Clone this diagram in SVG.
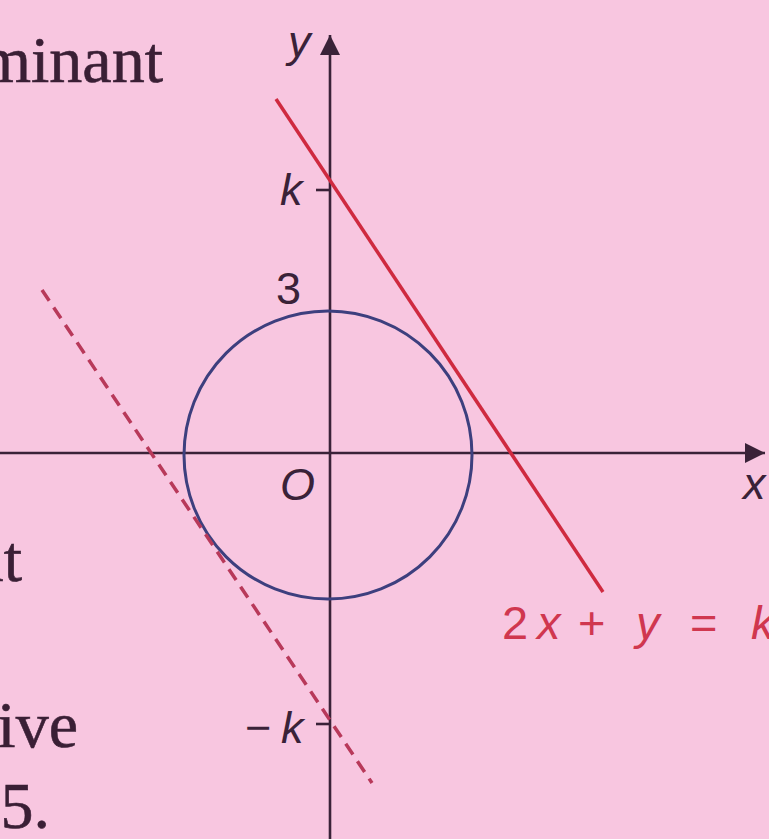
<svg xmlns="http://www.w3.org/2000/svg" width="769" height="839" viewBox="0 0 769 839">
<style>
.body{font-family:"Liberation Serif","Times New Roman",serif;font-size:66px;fill:#3a1f35;stroke:#3a1f35;stroke-width:0.6}
.lab{font-family:"Liberation Sans",Arial,sans-serif;font-size:45px;fill:#3a2238}
.it{font-style:italic}
.red{fill:#d0374f;font-size:47px}
.axis{stroke:#3a2238;stroke-width:2.6;fill:none}
</style>
<defs>
<marker id="ah" viewBox="0 0 20 20" refX="20" refY="10" markerWidth="20" markerHeight="20" markerUnits="userSpaceOnUse" orient="auto">
<path d="M0,0 L20,10 L0,20 Z" fill="#3a2238"/>
</marker>
</defs>
<rect width="769" height="839" fill="#f8c6e0"/>
<g id="bodytext">
<text class="body" x="163" y="82" text-anchor="end">minant</text>
<text class="body" x="22" y="581" text-anchor="end">at</text>
<text class="body" x="78" y="747" text-anchor="end">ive</text>
<text class="body" x="50" y="828" text-anchor="end">5.</text>
</g>
<g id="connectors">
<line id="x-axis" class="axis" x1="0" y1="453" x2="765" y2="453" marker-end="url(#ah)"/>
<line id="y-axis" class="axis" x1="330" y1="839" x2="330" y2="35" marker-end="url(#ah)"/>
<line class="axis" x1="316" y1="190" x2="330" y2="190"/>
<line class="axis" x1="316" y1="724" x2="330" y2="724"/>
</g>
<g id="circle">
<circle cx="328" cy="455" r="144" fill="none" stroke="#3d3f7e" stroke-width="3"/>
</g>
<g id="line-k">
<line x1="276" y1="99" x2="603" y2="592" stroke="#cf2a40" stroke-width="3.5"/>
</g>
<g id="line-minus-k">
<line x1="42" y1="290" x2="372" y2="783" stroke="#b8395a" stroke-width="3.5" stroke-dasharray="13 8"/>
</g>
<g id="labels">
<text class="lab it" x="288" y="57">y</text>
<text class="lab it" x="743" y="499">x</text>
<text class="lab it" x="280" y="205">k</text>
<text class="lab" x="276" y="304">3</text>
<text class="lab it" x="280" y="500">O</text>
<text class="lab" x="245" y="743">−<tspan class="it" x="281">k</tspan></text>
<text class="lab red" y="639"><tspan x="502">2</tspan><tspan class="it" x="537">x</tspan><tspan x="578">+</tspan><tspan class="it" x="636">y</tspan><tspan x="690">=</tspan><tspan class="it" x="751">k</tspan></text>
</g>
</svg>
